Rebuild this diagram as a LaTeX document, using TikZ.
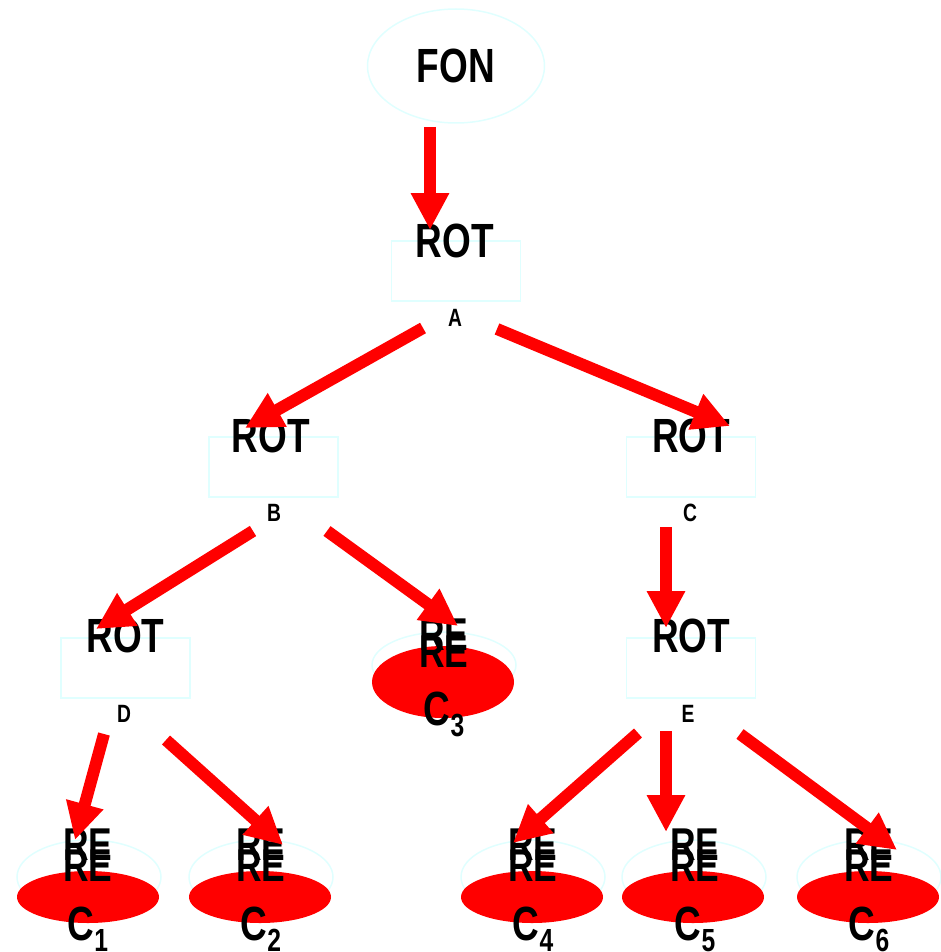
\documentclass[tikz,border=0pt]{standalone}
\usepackage{fontspec}
\setmainfont{Liberation Sans}
\newfontfamily\narrowbold[FakeStretch=0.77]{Liberation Sans Bold}
\usetikzlibrary{arrows.meta,shapes.geometric}

\definecolor{ringcyan}{HTML}{E0FFFF}
\definecolor{linkred}{HTML}{FF0000}

\tikzset{
  outline/.style={draw=ringcyan, line width=1.5pt},
  boxnode/.style={outline, rectangle, minimum width=129pt, minimum height=60pt, inner sep=0pt},
  topring/.style={outline, ellipse, minimum width=177pt, minimum height=114pt, inner sep=0pt},
  leafring/.style={outline, ellipse, minimum width=144pt, minimum height=74pt, inner sep=0pt},
  leaffill/.style={fill=linkred, ellipse, minimum width=142pt, minimum height=52pt, inner sep=0pt},
  midring/.style={outline, ellipse, minimum width=144pt, minimum height=66pt, inner sep=0pt},
  midfill/.style={fill=linkred, ellipse, minimum width=142pt, minimum height=72pt, inner sep=0pt},
  bigtxt/.style={anchor=base, inner sep=0pt, font=\narrowbold\fontsize{48}{48}\selectfont},
  retxt/.style={anchor=base, inner sep=0pt, font=\narrowbold\fontsize{46}{46}\selectfont},
  tagtxt/.style={anchor=base, inner sep=0pt, font=\narrowbold\fontsize{25}{25}\selectfont},
  link/.style={draw=linkred, line width=12pt, -{Triangle[length=37pt,width=36pt]}},
}
\newcommand{\leafname}[1]{C\raisebox{-11pt}{\fontsize{32}{32}\selectfont #1}}

\begin{document}
\begin{tikzpicture}[x=1pt,y=-1pt]
\useasboundingbox (0,0) rectangle (940,952);

% ---- outlines of the tree nodes ----
\node[topring] (fon) at (456,66) {};
\node[boxnode] (ra) at (456,271) {};
\node[boxnode] (rb) at (273.5,467) {};
\node[boxnode] (rc) at (691,467) {};
\node[boxnode] (rd) at (125.5,668) {};
\node[boxnode] (re) at (691,668) {};

% leaf in the middle row
\node[midring] (l3ring) at (444,665) {};
\node[midfill] (l3) at (443,682) {};

% leaves in the bottom row
\foreach \n/\x in {1/89, 2/261, 4/533, 5/694, 6/869} {
  \node[leafring] (l\n ring) at (\x,877) {};
  \node[leaffill] (l\n) at (\x-1,897) {};
}

% ---- texts ----
\node[bigtxt] (tfon) at (456,83) {FON};
\node[bigtxt] (tra) at (455,257) {ROT};
\node[bigtxt] (trb) at (271,452) {ROT};
\node[bigtxt] (trc) at (691,452) {ROT};
\node[bigtxt] (trd) at (125.5,652) {ROT};
\node[bigtxt] (tre) at (691,652) {ROT};

\node[tagtxt] (ga) at (455,326) {A};
\node[tagtxt] (gb) at (274,521) {B};
\node[tagtxt] (gc) at (690,521) {C};
\node[tagtxt] (gd) at (124,722) {D};
\node[tagtxt] (ge) at (688,722) {E};

\node[retxt] (u3) at (444,650) {RE};
\node[retxt] (v3) at (444,667) {RE};
\node[bigtxt] (n3) at (444,725) {\leafname{3}};

\foreach \n/\x in {1/88, 2/261, 4/533, 5/695, 6/869} {
  \node[retxt] (u\n) at (\x,860) {RE};
  \node[retxt] (v\n) at (\x,881) {RE};
  \node[bigtxt] (n\n) at (\x,940) {\leafname{\n}};
}

% ---- connector end points ----
\coordinate (fon-out) at (430,127);
\coordinate (ra-in) at (430,230);
\coordinate (ra-outl) at (423,328);
\coordinate (ra-outr) at (497,329);
\coordinate (rb-in) at (245,428);
\coordinate (rc-in) at (730,426);
\coordinate (rb-outl) at (253,531);
\coordinate (rb-outr) at (327,531);
\coordinate (rd-in) at (96,629);
\coordinate (l3-in) at (458,626);
\coordinate (rc-out) at (666,527);
\coordinate (re-in) at (666,628);
\coordinate (rd-outl) at (104,734);
\coordinate (rd-outr) at (166,740);
\coordinate (l1-in) at (75,840);
\coordinate (l2-in) at (283,845);
\coordinate (re-outl) at (638,733);
\coordinate (re-outm) at (666,731);
\coordinate (re-outr) at (740,734);
\coordinate (l4-in) at (513,843);
\coordinate (l5-in) at (666,832);
\coordinate (l6-in) at (897,850);

% ---- connectors ----
\draw[link] (fon-out) -- (ra-in);
\draw[link] (ra-outl) -- (rb-in);
\draw[link] (ra-outr) -- (rc-in);
\draw[link] (rb-outl) -- (rd-in);
\draw[link] (rb-outr) -- (l3-in);
\draw[link] (rc-out) -- (re-in);
\draw[link] (rd-outl) -- (l1-in);
\draw[link] (rd-outr) -- (l2-in);
\draw[link] (re-outl) -- (l4-in);
\draw[link] (re-outm) -- (l5-in);
\draw[link] (re-outr) -- (l6-in);
\end{tikzpicture}
\end{document}
